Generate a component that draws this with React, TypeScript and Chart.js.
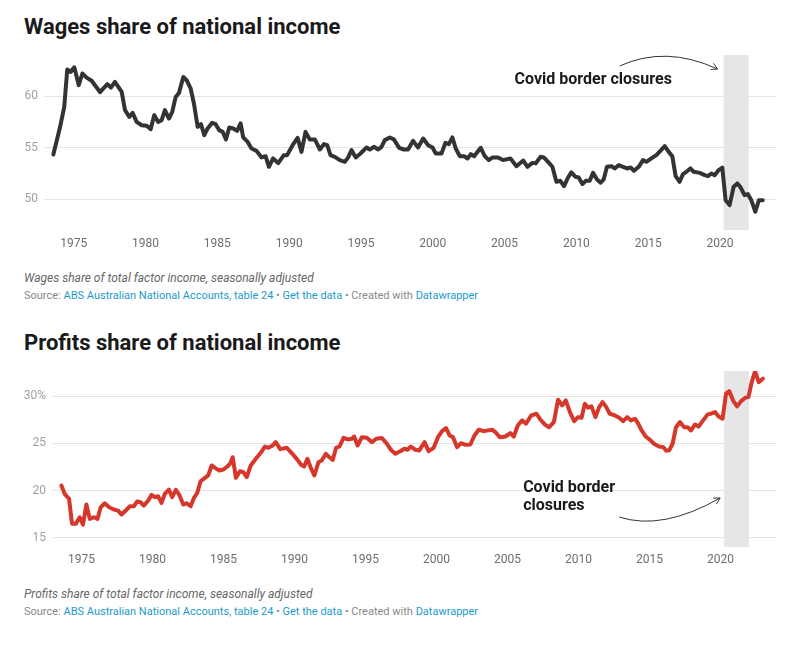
import React, { useEffect, useRef } from "react";
import { Chart, registerables } from "chart.js";

Chart.register(...registerables);

// ---------- data ----------
const wagesYears = [
  1973.58, 1974.05, 1974.34, 1974.55, 1974.78, 1975.04, 1975.35, 1975.6, 1975.9, 1976.25,
  1976.83, 1977.34, 1977.59, 1977.87, 1978.34, 1978.57, 1978.87, 1979.1, 1979.38, 1979.73,
  1980.08, 1980.36, 1980.61, 1980.88, 1981.12, 1981.35, 1981.63, 1981.86, 1982.1, 1982.33,
  1982.63, 1982.86, 1983.14, 1983.37, 1983.63, 1983.86, 1984.09, 1984.32, 1984.64, 1984.88,
  1985.13, 1985.37, 1985.6, 1985.83, 1986.11, 1986.38, 1986.62, 1986.8, 1987.11, 1987.38,
  1987.73, 1988.08, 1988.36, 1988.59, 1988.88, 1989.24, 1989.63, 1989.86, 1990.24, 1990.59,
  1990.86, 1991.14, 1991.44, 1991.79, 1992.14, 1992.42, 1992.65, 1992.88, 1993.18, 1993.53,
  1993.88, 1994.11, 1994.34, 1994.64, 1994.97, 1995.39, 1995.62, 1995.9, 1996.2, 1996.43,
  1996.66, 1997.01, 1997.29, 1997.66, 1997.98, 1998.28, 1998.63, 1998.98, 1999.33, 1999.68,
  1999.98, 2000.21, 2000.61, 2000.88, 2001.12, 2001.37, 2001.6, 2001.88, 2002.18, 2002.42,
  2002.65, 2002.88, 2003.34, 2003.62, 2003.9, 2004.16, 2004.54, 2004.89, 2005.41, 2005.83,
  2006.3, 2006.6, 2006.94, 2007.17, 2007.5, 2007.73, 2008.03, 2008.33, 2008.61, 2008.88,
  2009.14, 2009.42, 2009.65, 2009.93, 2010.16, 2010.42, 2010.65, 2010.93, 2011.16, 2011.44,
  2011.69, 2011.9, 2012.13, 2012.44, 2012.67, 2012.95, 2013.25, 2013.53, 2013.78, 2014.01,
  2014.34, 2014.64, 2014.87, 2015.22, 2015.57, 2015.85, 2016.15, 2016.43, 2016.68, 2016.91,
  2017.19, 2017.42, 2017.66, 2017.94, 2018.17, 2018.59, 2018.94, 2019.16, 2019.4, 2019.63,
  2019.91, 2020.16, 2020.39, 2020.67, 2020.95, 2021.21, 2021.41, 2021.71, 2021.94, 2022.18,
  2022.46, 2022.71, 2022.98,
];
const wagesValues = [
  54.34, 57.0, 58.96, 62.6, 62.36, 62.8, 61.07, 62.2, 61.8, 61.5,
  60.4, 61.17, 60.84, 61.39, 60.42, 58.64, 57.99, 58.38, 57.5, 57.18,
  57.12, 56.8, 58.16, 57.5, 57.67, 58.64, 57.83, 58.48, 59.93, 60.32,
  61.87, 61.55, 60.75, 59.29, 57.02, 57.28, 56.21, 56.86, 57.41, 57.28,
  56.7, 56.53, 55.8, 56.96, 56.86, 56.63, 57.35, 55.99, 55.56, 54.92,
  54.69, 54.05, 54.17, 53.14, 53.95, 53.5, 54.27, 54.27, 55.24, 55.95,
  54.59, 56.53, 55.8, 55.8, 54.82, 55.34, 55.24, 54.27, 54.11, 53.79,
  53.62, 54.05, 54.76, 54.05, 54.43, 55.02, 54.82, 55.08, 54.82, 55.08,
  55.73, 55.99, 55.8, 54.98, 54.82, 54.82, 55.66, 55.02, 55.89, 55.24,
  55.02, 54.43, 54.43, 55.47, 55.34, 55.99, 54.92, 54.17, 54.17, 53.95,
  54.37, 54.17, 54.98, 54.17, 53.79, 54.05, 54.05, 53.79, 53.95, 53.2,
  53.75, 53.14, 53.52, 53.47, 54.11, 54.05, 53.62, 53.14, 51.68, 51.78,
  51.26, 52.1, 52.6, 52.17, 52.1, 51.46, 51.78, 51.78, 52.55, 51.91,
  51.59, 51.91, 53.14, 53.2, 52.98, 53.3, 53.14, 52.98, 53.07, 52.75,
  53.14, 53.79, 53.62, 53.95, 54.27, 54.69, 55.15, 54.59, 54.17, 52.23,
  51.68, 52.43, 52.65, 52.98, 52.65, 52.55, 52.33, 52.23, 52.49, 52.33,
  52.82, 53.07, 49.9, 49.42, 51.2, 51.52, 51.2, 50.39, 50.49, 49.9,
  48.77, 49.9, 49.9,
];

const profitsYears = [
  1973.59, 1973.82, 1974.13, 1974.34, 1974.6, 1974.88, 1975.11, 1975.35, 1975.59, 1975.87,
  1976.13, 1976.36, 1976.64, 1976.95, 1977.28, 1977.58, 1977.82, 1978.12, 1978.41, 1978.69,
  1978.92, 1979.16, 1979.39, 1979.7, 1979.94, 1980.17, 1980.4, 1980.64, 1980.87, 1981.16,
  1981.39, 1981.65, 1981.88, 1982.17, 1982.4, 1982.69, 1982.92, 1983.15, 1983.39, 1983.7,
  1983.93, 1984.17, 1984.4, 1984.71, 1984.99, 1985.27, 1985.46, 1985.65, 1985.88, 1986.16,
  1986.4, 1986.64, 1986.92, 1987.22, 1987.57, 1987.93, 1988.16, 1988.47, 1988.68, 1989.0,
  1989.46, 1989.81, 1990.16, 1990.44, 1990.68, 1990.91, 1991.15, 1991.4, 1991.69, 1991.92,
  1992.21, 1992.46, 1992.7, 1992.93, 1993.17, 1993.45, 1993.76, 1994.04, 1994.2, 1994.44,
  1994.75, 1995.1, 1995.45, 1995.76, 1996.16, 1996.51, 1996.79, 1997.1, 1997.45, 1997.73,
  1997.96, 1998.2, 1998.51, 1998.79, 1999.16, 1999.44, 1999.8, 2000.1, 2000.39, 2000.67,
  2000.92, 2001.16, 2001.45, 2001.73, 2002.03, 2002.38, 2002.67, 2002.97, 2003.32, 2003.91,
  2004.15, 2004.45, 2004.85, 2005.2, 2005.44, 2005.72, 2006.03, 2006.3, 2006.65, 2007.04,
  2007.32, 2007.62, 2007.93, 2008.26, 2008.56, 2008.84, 2009.1, 2009.39, 2009.69, 2009.97,
  2010.21, 2010.44, 2010.67, 2010.91, 2011.19, 2011.45, 2011.69, 2011.92, 2012.2, 2012.56,
  2012.86, 2013.14, 2013.43, 2013.69, 2013.97, 2014.2, 2014.44, 2014.73, 2015.03, 2015.31,
  2015.66, 2015.97, 2016.15, 2016.38, 2016.62, 2016.86, 2017.14, 2017.44, 2017.68, 2017.92,
  2018.2, 2018.45, 2018.73, 2019.09, 2019.32, 2019.61, 2019.86, 2020.14, 2020.38, 2020.61,
  2020.9, 2021.16, 2021.44, 2021.74, 2021.96, 2022.19, 2022.43, 2022.68, 2022.97,
];
const profitsValues = [
  20.53, 19.65, 19.12, 16.46, 16.46, 17.16, 16.38, 18.51, 16.99, 17.16,
  16.99, 18.22, 18.65, 18.22, 17.98, 17.87, 17.45, 17.87, 18.33, 18.33,
  18.83, 18.76, 18.4, 18.94, 19.54, 19.29, 19.39, 18.69, 19.65, 20.1,
  19.29, 20.07, 19.57, 18.51, 18.65, 18.33, 19.22, 19.72, 20.99, 21.35,
  21.6, 22.66, 22.41, 22.13, 22.23, 22.55, 22.84, 23.54, 21.35, 22.05,
  21.95, 21.42, 22.66, 23.26, 23.9, 24.68, 24.54, 24.79, 25.14, 24.4,
  24.54, 23.97, 23.37, 22.77, 22.55, 23.37, 22.41, 21.6, 23.01, 23.19,
  23.9, 23.54, 23.26, 24.54, 24.68, 25.6, 25.43, 25.5, 25.74, 24.79,
  25.67, 25.6, 25.14, 25.5, 25.57, 24.97, 24.33, 23.9, 24.18, 24.44,
  24.33, 24.68, 24.33, 24.26, 25.14, 24.18, 24.54, 25.67, 26.31, 26.63,
  25.85, 25.67, 24.61, 25.03, 24.86, 24.89, 25.85, 26.46, 26.31, 26.46,
  26.2, 25.67, 25.74, 26.1, 25.74, 26.91, 27.45, 27.1, 27.95, 28.16,
  27.52, 27.02, 26.73, 27.27, 29.65, 29.04, 29.57, 28.33, 27.37, 27.8,
  27.73, 29.22, 28.8, 28.94, 27.8, 28.86, 29.39, 28.94, 28.16, 27.98,
  27.73, 27.37, 27.8, 27.45, 27.63, 27.1, 26.38, 25.74, 25.39, 24.97,
  24.68, 24.61, 24.26, 24.26, 24.97, 26.73, 27.27, 26.73, 26.73, 26.38,
  27.02, 26.81, 27.37, 28.09, 28.16, 28.33, 27.87, 27.63, 30.29, 30.56,
  29.5, 28.94, 29.5, 29.86, 29.93, 31.52, 32.69, 31.52, 31.88,
];

const xTickYears = [1975, 1980, 1985, 1990, 1995, 2000, 2005, 2010, 2015, 2020];
const wagesTicks = [50, 55, 60];
const profitsTicks = [15, 20, 25, 30];
const covidBand = [2020.25, 2022.0];
const annotationLines = ["Covid border", "closures"];

// ---------- styling ----------
const FONT = "Roboto, 'Noto Sans', 'DejaVu Sans', sans-serif";
const TEXT_DARK = "#1a1a1a";
const LINK = "#1d9bcc";

type AnnKind = "top" | "bottom";

function drawArrow(
  ctx: CanvasRenderingContext2D,
  sx: number, sy: number, cx: number, cy: number, ex: number, ey: number
) {
  ctx.save();
  ctx.strokeStyle = "#333";
  ctx.lineWidth = 1;
  ctx.beginPath();
  ctx.moveTo(sx, sy);
  ctx.quadraticCurveTo(cx, cy, ex, ey);
  ctx.stroke();
  const ang = Math.atan2(ey - cy, ex - cx);
  const len = 7;
  ctx.beginPath();
  ctx.moveTo(ex - len * Math.cos(ang - 0.5), ey - len * Math.sin(ang - 0.5));
  ctx.lineTo(ex, ey);
  ctx.lineTo(ex - len * Math.cos(ang + 0.5), ey - len * Math.sin(ang + 0.5));
  ctx.stroke();
  ctx.restore();
}

function makePlugins(kind: AnnKind) {
  const band = {
    id: "covidBand",
    beforeDatasetsDraw(chart: any) {
      const { ctx, chartArea } = chart;
      const xs = chart.scales.x;
      const x0 = xs.getPixelForValue(covidBand[0]);
      const x1 = xs.getPixelForValue(covidBand[1]);
      ctx.save();
      ctx.fillStyle = "#e6e6e6";
      ctx.fillRect(x0, chartArea.top, x1 - x0, chartArea.bottom - chartArea.top);
      ctx.restore();
    },
  };
  const note = {
    id: "covidNote",
    afterDatasetsDraw(chart: any) {
      const { ctx, chartArea } = chart;
      const bx = chart.scales.x.getPixelForValue(covidBand[0]);
      const t = chartArea.top;
      ctx.save();
      ctx.fillStyle = TEXT_DARK;
      ctx.font = `700 16px ${FONT}`;
      ctx.textBaseline = "alphabetic";
      ctx.textAlign = "left";
      if (kind === "top") {
        ctx.fillText(annotationLines.join(" "), bx - 209, t + 29);
        drawArrow(ctx, bx - 104, t + 11, bx - 58, t - 10, bx - 6, t + 14);
      } else {
        ctx.fillText(annotationLines[0], bx - 201, t + 121);
        ctx.fillText(annotationLines[1], bx - 201, t + 139);
        drawArrow(ctx, bx - 105, t + 146, bx - 62, t + 160, bx - 4, t + 127);
      }
      ctx.restore();
    },
  };
  return [band, note];
}

type ChartProps = {
  years: number[];
  values: number[];
  color: string;
  yMin: number;
  yMax: number;
  yTicks: number[];
  percentTop: boolean;
  yAxisWidth: number;
  xAxisHeight: number;
  xLabelPad: number;
  height: number;
  kind: AnnKind;
  top: number;
};

function LineChart(p: ChartProps) {
  const ref = useRef<HTMLCanvasElement | null>(null);
  useEffect(() => {
    if (!ref.current) return;
    const points = p.years.map((x, i) => ({ x, y: p.values[i] }));
    const topTick = p.yTicks[p.yTicks.length - 1];
    const chart = new Chart(ref.current, {
      type: "line",
      data: {
        datasets: [
          {
            data: points,
            borderColor: p.color,
            borderWidth: 4,
            pointRadius: 0,
            pointHoverRadius: 0,
            tension: 0,
            fill: false,
            borderJoinStyle: "round",
            borderCapStyle: "round",
          } as any,
        ],
      },
      options: {
        animation: false,
        responsive: false,
        maintainAspectRatio: false,
        layout: { padding: { top: 10, right: 10, left: 0, bottom: 0 } },
        plugins: { legend: { display: false }, tooltip: { enabled: false } },
        scales: {
          x: {
            type: "linear",
            min: 1973,
            max: 2023.9,
            afterBuildTicks: (s: any) => {
              s.ticks = xTickYears.map((v) => ({ value: v }));
            },
            afterFit: (s: any) => {
              s.height = p.xAxisHeight;
              s.paddingLeft = 0;
              s.paddingRight = 0;
            },
            grid: { display: false, drawTicks: false },
            border: { display: false },
            ticks: {
              color: "#6e6e6e",
              font: { family: FONT, size: 12 },
              padding: p.xLabelPad,
              maxRotation: 0,
              autoSkip: false,
              callback: (v: any) => String(v),
            },
          },
          y: {
            type: "linear",
            min: p.yMin,
            max: p.yMax,
            afterBuildTicks: (s: any) => {
              s.ticks = p.yTicks.map((v) => ({ value: v }));
            },
            afterFit: (s: any) => {
              s.width = p.yAxisWidth;
              s.paddingTop = 0;
              s.paddingBottom = 0;
            },
            grid: { color: "#e3e3e3", lineWidth: 1, drawTicks: false },
            border: { display: false },
            ticks: {
              color: "#a0a0a0",
              font: { family: FONT, size: 12 },
              padding: 7,
              callback: (v: any) =>
                String(v) + (p.percentTop && v === topTick ? "%" : ""),
            },
          },
        },
      },
      plugins: makePlugins(p.kind) as any,
    });
    return () => chart.destroy();
  }, []);
  return (
    <canvas
      ref={ref}
      width={786}
      height={p.height}
      style={{ position: "absolute", left: 0, top: p.top, width: 786, height: p.height, display: "block" }}
    />
  );
}

const titleStyle: React.CSSProperties = {
  position: "absolute",
  left: 24,
  fontSize: 22,
  lineHeight: "26px",
  fontWeight: 700,
  color: TEXT_DARK,
  whiteSpace: "nowrap",
};
const noteStyle: React.CSSProperties = {
  position: "absolute",
  left: 24,
  fontSize: 12,
  lineHeight: "16px",
  fontStyle: "italic",
  color: "#666",
  whiteSpace: "nowrap",
};
const sourceStyle: React.CSSProperties = {
  position: "absolute",
  left: 24,
  fontSize: 11,
  lineHeight: "14px",
  color: "#888",
  whiteSpace: "nowrap",
};

function Source({ top }: { top: number }) {
  return (
    <div style={{ ...sourceStyle, top }}>
      Source: <span style={{ color: LINK }}>ABS Australian National Accounts, table 24</span>
      {" • "}
      <span style={{ color: LINK }}>Get the data</span>
      {" • Created with "}
      <span style={{ color: LINK }}>Datawrapper</span>
    </div>
  );
}

export default function App() {
  return (
    <div
      style={{
        position: "absolute",
        left: 0,
        top: 0,
        width: 786,
        height: 646,
        background: "#fff",
        fontFamily: FONT,
        overflow: "hidden",
      }}
    >
      <div style={{ ...titleStyle, top: 14 }}>Wages share of national income</div>
      <LineChart
        years={wagesYears}
        values={wagesValues}
        color="#333333"
        yMin={47}
        yMax={64}
        yTicks={wagesTicks}
        percentTop={false}
        yAxisWidth={45}
        xAxisHeight={30}
        xLabelPad={7}
        height={215}
        kind="top"
        top={45}
      />
      <div style={{ ...noteStyle, top: 269.5 }}>Wages share of total factor income, seasonally adjusted</div>
      <Source top={289} />

      <div style={{ ...titleStyle, top: 329.5 }}>Profits share of national income</div>
      <LineChart
        years={profitsYears}
        values={profitsValues}
        color="#d5372b"
        yMin={14}
        yMax={32.7}
        yTicks={profitsTicks}
        percentTop={true}
        yAxisWidth={53}
        xAxisHeight={29}
        xLabelPad={6}
        height={215}
        kind="bottom"
        top={361}
      />
      <div style={{ ...noteStyle, top: 585.5 }}>Profits share of total factor income, seasonally adjusted</div>
      <Source top={605} />
    </div>
  );
}
